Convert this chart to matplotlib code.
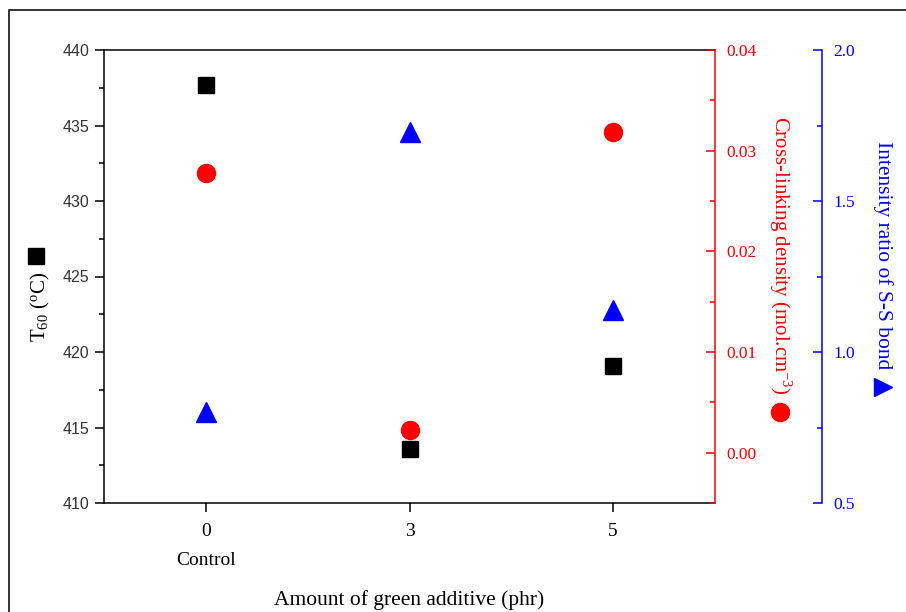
import matplotlib
matplotlib.use("Agg")
import matplotlib.pyplot as plt
from matplotlib.lines import Line2D
from matplotlib.ticker import MultipleLocator

plt.rcParams["font.family"] = ["Liberation Serif", "DejaVu Serif"]
plt.rcParams["mathtext.fontset"] = "custom"
plt.rcParams["mathtext.rm"] = "Liberation Serif"
plt.rcParams["mathtext.it"] = "Liberation Serif:italic"

# data
x_labels = ["0\nControl", "3", "5"]
t60 = [437.7, 413.6, 419.1]            # degC, left axis
crosslink = [0.0278, 0.00226, 0.0319]  # mol/cm3, red axis
ss_ratio = [0.80, 1.728, 1.139]        # S-S intensity ratio, blue axis

W, H = 906, 612
fig = plt.figure(figsize=(W / 100, H / 100), dpi=100)
ax = fig.add_axes([104 / W, 1 - 503 / H, 611 / W, 453 / H])
ax_r = ax.twinx()
ax_b = ax.twinx()

xpos = list(range(len(x_labels)))
ax.plot(xpos, t60, "s", color="black", ms=12, ls="none")
ax_r.plot(xpos, crosslink, "o", color="red", ms=13, ls="none")
ax_b.plot(xpos, ss_ratio, "^", color="blue", ms=15, ls="none")

lw = 1.1
ax.set_xlim(-0.5, 2.5)
ax.set_xticks(xpos)
ax.set_xticklabels(x_labels, fontsize=14, linespacing=1.95)
ax.set_ylim(410, 440)
ax.yaxis.set_major_locator(MultipleLocator(5))
ax.yaxis.set_minor_locator(MultipleLocator(2.5))
ax.tick_params(axis="y", which="major", direction="out", length=6.5, width=lw,
               labelsize=11.5, pad=4)
ax.tick_params(axis="y", which="minor", direction="out", length=3.5, width=lw)
for t in ax.get_yticklabels():
    t.set_fontfamily("Liberation Sans")
    t.set_color("#333333")
ax.tick_params(axis="x", direction="out", length=6.5, width=lw, pad=8)
ax.set_xlabel("Amount of green additive (phr)", fontsize=15.5, labelpad=15)
for s in ("left", "bottom", "top"):
    ax.spines[s].set_linewidth(lw)
ax.spines["right"].set_visible(False)

ax_r.set_ylim(-0.005, 0.04)
ax_r.yaxis.set_major_locator(MultipleLocator(0.01))
ax_r.yaxis.set_minor_locator(MultipleLocator(0.005))
ax_r.yaxis.set_major_formatter(plt.FormatStrFormatter("%.2f"))
ax_r.tick_params(axis="y", which="major", direction="in", length=6.5, width=lw,
                 colors="red", labelsize=12.5, pad=8)
ax_r.tick_params(axis="y", which="minor", direction="in", length=3.5, width=lw,
                 colors="red")
ax_r.spines["right"].set_color("red")
ax_r.spines["right"].set_linewidth(lw)
for s in ("left", "top", "bottom"):
    ax_r.spines[s].set_visible(False)

ax_b.set_ylim(0.5, 2.0)
ax_b.yaxis.set_major_locator(MultipleLocator(0.5))
ax_b.yaxis.set_minor_locator(MultipleLocator(0.25))
ax_b.yaxis.set_major_formatter(plt.FormatStrFormatter("%.1f"))
ax_b.spines["right"].set_position(("axes", (822 - 104) / 611))
ax_b.spines["right"].set_color("blue")
ax_b.spines["right"].set_linewidth(lw)
for s in ("left", "top", "bottom"):
    ax_b.spines[s].set_visible(False)
ax_b.tick_params(axis="y", which="major", direction="in", length=6.5, width=lw,
                 colors="blue", labelsize=12.5, pad=8)
ax_b.tick_params(axis="y", which="minor", direction="in", length=3.5, width=lw,
                 colors="blue")

# axis titles with their marker keys
fig.text(40 / W, 1 - 307 / H, r"T$_{60}$ ($^{\rm o}$C)", rotation=90,
         ha="center", va="center", fontsize=15)
fig.text(780 / W, 1 - 255 / H, r"Cross-linking density (mol.cm$^{-3}$)",
         rotation=-90, ha="center", va="center", fontsize=15, color="red")
fig.text(883 / W, 1 - 255 / H, "Intensity ratio of S-S bond", rotation=-90,
         ha="center", va="center", fontsize=15.5, color="blue")
fig.add_artist(Line2D([36 / W], [1 - 256 / H], marker="s", ms=12,
                      color="black", transform=fig.transFigure))
fig.add_artist(Line2D([780 / W], [1 - 412 / H], marker="o", ms=13,
                      color="red", transform=fig.transFigure))
fig.add_artist(Line2D([883 / W], [1 - 387 / H], marker=">", ms=13,
                      color="blue", transform=fig.transFigure))

# partial frame around the figure
fig.add_artist(Line2D([9 / W, 9 / W, 1], [0, 1 - 10 / H, 1 - 10 / H],
                      color="#222222", lw=1.3, transform=fig.transFigure))

fig.savefig("out.png", dpi=100)
